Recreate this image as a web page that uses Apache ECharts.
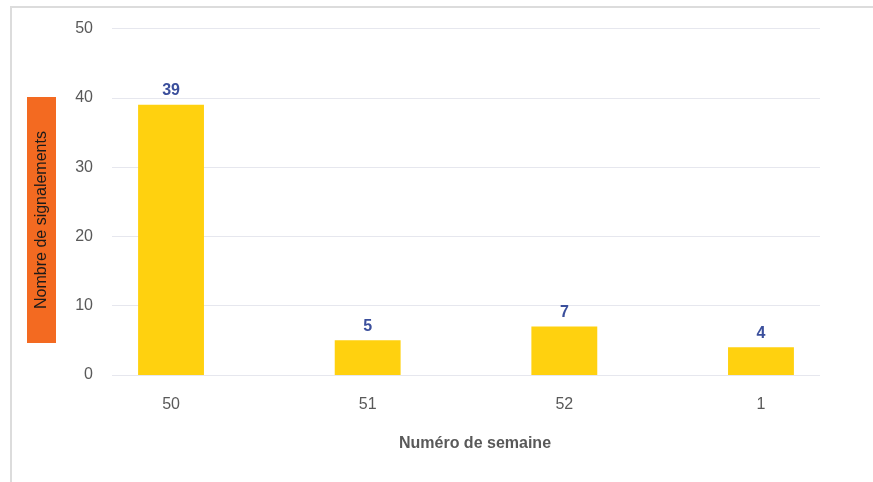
<!DOCTYPE html>
<html>
<head>
    <meta charset="utf-8">
    <script type="text/javascript" src="https://cdn.jsdelivr.net/npm/echarts@6/dist/echarts.min.js"></script>
    <style>
        html, body { margin: 0; padding: 0; background: #fff; }
        #main { width: 873px; height: 482px; }
    </style>
</head>
<body>
<div id="main"></div>
<script type="text/javascript">
    var weeks = ['50', '51', '52', '1'];
    var counts = [39, 5, 7, 4];
    var yMin = 0, yMax = 50, yStep = 10;
    var yName = 'Nombre de signalements';
    var xName = 'Numéro de semaine';

    var font = '"Liberation Sans", Arial, sans-serif';
    var myChart = echarts.init(document.getElementById('main'));

    var option = {
        animation: false,
        backgroundColor: '#fff',
        // grid 0 : graduations + lignes ; grid 1 : les barres
        grid: [
            { left: 112, right: 53, top: 28.5, bottom: 107 },
            { left: 72.7, right: 13.7, top: 28.5, bottom: 107 }
        ],
        xAxis: [
            { type: 'category', gridIndex: 0, data: weeks, show: false },
            {
                type: 'category', gridIndex: 1, data: weeks,
                axisLine: { show: false },
                axisTick: { show: false },
                axisLabel: { margin: 22, color: '#595959', fontSize: 16, fontFamily: font }
            }
        ],
        yAxis: [
            {
                type: 'value', gridIndex: 0, min: yMin, max: yMax, interval: yStep,
                axisLine: { show: false },
                axisTick: { show: false },
                axisLabel: { margin: 19, color: '#595959', fontSize: 16, fontFamily: font },
                splitLine: { lineStyle: { color: '#e6e7ee', width: 1 } }
            },
            { type: 'value', gridIndex: 1, min: yMin, max: yMax, interval: yStep, show: false }
        ],
        series: [
            {
                type: 'bar',
                xAxisIndex: 1,
                yAxisIndex: 1,
                data: counts,
                barWidth: '33.5%',
                itemStyle: { color: '#FFD10F' },
                label: {
                    show: true,
                    position: 'top',
                    distance: 6,
                    color: '#3B4F9C',
                    fontWeight: 'bold',
                    fontSize: 16,
                    fontFamily: font
                }
            }
        ],
        graphic: [
            {
                type: 'rect', silent: true,
                shape: { x: 11, y: 7, width: 900, height: 600 },
                style: { fill: null, stroke: '#dcdcdc', lineWidth: 2 }
            },
            {
                type: 'rect', silent: true,
                shape: { x: 27, y: 97, width: 29, height: 246 },
                style: { fill: '#F36A21' }
            },
            {
                type: 'text', silent: true,
                x: 41.5, y: 220, rotation: Math.PI / 2,
                style: {
                    text: yName, fill: '#1a1a1a', fontSize: 16, fontFamily: font,
                    align: 'center', verticalAlign: 'middle'
                }
            },
            {
                type: 'text', silent: true,
                x: 475, y: 444,
                style: {
                    text: xName, fill: '#595959', fontSize: 16, fontWeight: 'bold', fontFamily: font,
                    align: 'center', verticalAlign: 'middle'
                }
            }
        ]
    };
    myChart.setOption(option);
</script>
</body>
</html>
